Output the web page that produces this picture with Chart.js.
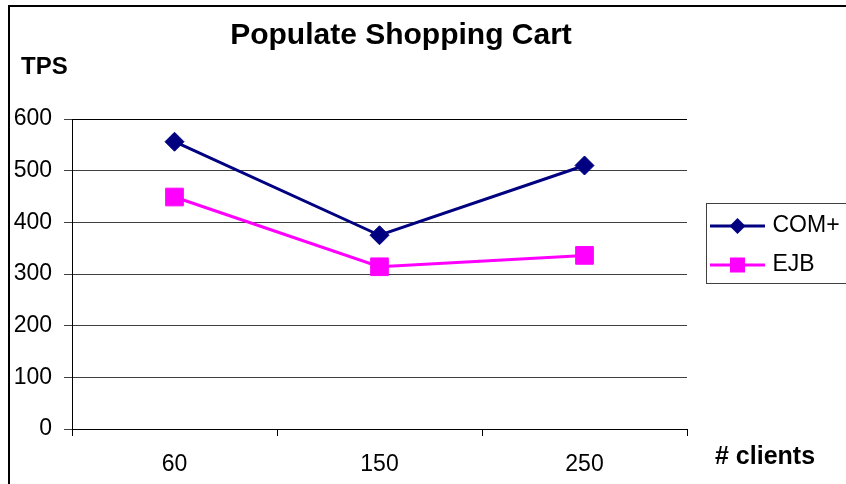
<!DOCTYPE html>
<html><head><meta charset="utf-8">
<script src="https://cdn.jsdelivr.net/npm/chart.js@4"></script>
<style>html,body{margin:0;padding:0;background:#fff;overflow:hidden}#wrap{width:846px;height:484px;position:relative}</style>
</head><body><div id="wrap"><canvas id="c" width="846" height="484"></canvas></div>
<script>
const categories = ['60', '150', '250'];
const comPlus = [556, 375, 510];
const ejb = [449, 314, 336];
const yTicks = [0, 100, 200, 300, 400, 500, 600];
const seriesNames = ['COM+', 'EJB'];
const chartTitle = 'Populate Shopping Cart';
const yTitle = 'TPS';
const xTitle = '# clients';

const FONT = '"Liberation Sans", Arial, sans-serif';
const NAVY = '#000080';
const MAGENTA = '#FF00FF';

function legendIcon(color, style) {
  const c = document.createElement('canvas');
  c.width = 70; c.height = 20;
  const g = c.getContext('2d');
  g.strokeStyle = color; g.lineWidth = 3;
  g.beginPath(); g.moveTo(13, 10); g.lineTo(68, 10); g.stroke();
  g.fillStyle = color;
  if (style === 'diamond') {
    g.beginPath(); g.moveTo(32.5, 10); g.lineTo(40.5, 2); g.lineTo(48.5, 10); g.lineTo(40.5, 18); g.closePath(); g.fill();
  } else {
    g.fillRect(33, 2.5, 15, 15);
  }
  return c;
}
const icons = [legendIcon(NAVY, 'diamond'), legendIcon(MAGENTA, 'square')];

const decor = {
  id: 'decor',
  afterDraw(chart) {
    const g = chart.ctx;
    g.save();
    g.strokeStyle = '#000'; g.lineWidth = 2;
    g.beginPath(); g.moveTo(9, 484); g.lineTo(9, 6); g.lineTo(846, 6); g.stroke();
    g.strokeStyle = '#404040'; g.lineWidth = 1;
    g.strokeRect(706.5, 203.5, 200, 80);
    g.font = 'bold 25px ' + FONT; g.fillStyle = '#000';
    g.textBaseline = 'middle'; g.textAlign = 'left';
    g.fillText(xTitle, 715, 457);
    g.font = 'bold 24px ' + FONT;
    g.fillText(yTitle, 21, 67);
    g.restore();
  }
};

new Chart(document.getElementById('c'), {
  type: 'line',
  data: {
    labels: categories,
    datasets: [
      { label: seriesNames[0], data: comPlus, borderColor: NAVY, backgroundColor: NAVY, borderWidth: 3,
        pointStyle: 'rectRot', pointRadius: 9.5, pointBorderWidth: 1, pointBackgroundColor: NAVY, pointBorderColor: NAVY, tension: 0 },
      { label: seriesNames[1], data: ejb, borderColor: MAGENTA, backgroundColor: MAGENTA, borderWidth: 3,
        pointStyle: 'rect', pointRadius: 12.5, pointBorderWidth: 1, pointBackgroundColor: MAGENTA, pointBorderColor: MAGENTA, tension: 0 }
    ]
  },
  options: {
    responsive: false,
    animation: false,
    devicePixelRatio: 1,
    layout: { padding: { left: -44, right: 0, top: 0, bottom: 0 } },
    plugins: {
      title: { display: true, text: chartTitle, color: '#000', font: { family: FONT, size: 30, weight: 'bold' }, padding: { top: 18, bottom: 65 } },
      legend: {
        position: 'right', align: 'start', fullSize: false, maxWidth: 159,
        title: { display: true, text: '', padding: { top: 65.1, bottom: 0 }, font: { size: 12 } },
        labels: {
          usePointStyle: true, pointStyleWidth: 58, padding: 16, color: '#000',
          font: { family: FONT, size: 23 },
          generateLabels: (chart) => {
            const items = Chart.defaults.plugins.legend.labels.generateLabels(chart);
            items.forEach((it, i) => { it.pointStyle = icons[i]; });
            return items;
          }
        }
      },
      tooltip: { enabled: false }
    },
    scales: {
      x: {
        type: 'category', offset: true,
        grid: { offset: true, drawOnChartArea: true,
          color: (ctx) => (ctx.index === 0 || ctx.index === categories.length) ? '#000' : 'rgba(0,0,0,0)',
          tickColor: '#000', tickLength: 7, lineWidth: 1 },
        border: { color: '#000', width: 1 },
        ticks: { color: '#000', font: { family: FONT, size: 23 }, padding: 15, maxRotation: 0 },
        afterFit: (s) => { s.height = 55; }
      },
      y: {
        min: 0, max: 600,
        afterBuildTicks: (s) => { s.ticks = yTicks.map(v => ({ value: v })); },
        ticks: { color: '#000', font: { family: FONT, size: 23 }, padding: 12 },
        grid: { color: (ctx) => (ctx.tick && ctx.tick.value === 600) ? '#000' : '#404040', tickColor: '#404040', tickLength: 8, lineWidth: 1 },
        border: { color: '#000', width: 1 },
        afterFit: (s) => { s.width = 116; }
      }
    }
  },
  plugins: [decor]
});
</script>
</body></html>
